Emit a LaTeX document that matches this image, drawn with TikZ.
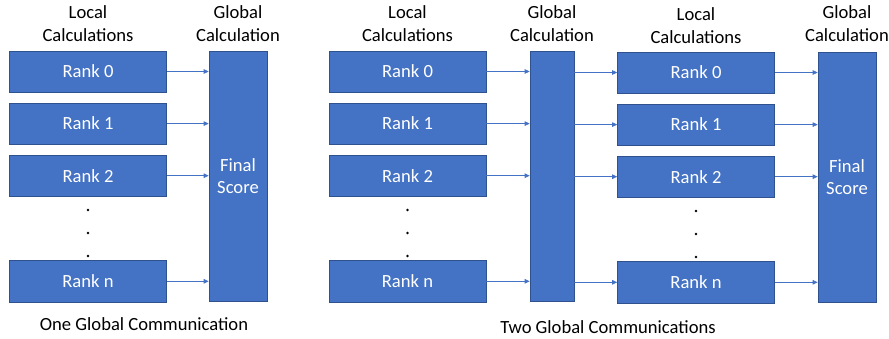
\documentclass[tikz,border=0pt]{standalone}
\usepackage{fontspec}
\setmainfont{Carlito}
\usepackage{tikz}
\usetikzlibrary{positioning, arrows.meta}
\usepackage{xcolor}
\definecolor{office-blue}{HTML}{4472C4}
\definecolor{office-edge}{HTML}{2F528F}

\tikzset{
	rankbox/.style={draw=office-edge, line width=0.6pt, fill=office-blue, text=white,
		minimum width=157pt, minimum height=41pt, inner sep=0pt},
	sumbox/.style={draw=office-edge, line width=0.6pt, fill=office-blue, text=white,
		minimum width=58pt, minimum height=250pt, inner sep=0pt, align=center},
	vdot/.style={circle, fill=black, inner sep=0pt, minimum size=2.6pt},
	headtext/.style={align=center, inner sep=0pt},
	flowarrow/.style={-{Triangle[length=5pt, width=4.5pt]}, office-blue, line width=0.7pt},
}

\begin{document}
\begin{tikzpicture}[x=1pt, y=-1pt, node distance=10.5pt, font=\fontsize{18.6}{22.5}\selectfont]
	\useasboundingbox (0,0) rectangle (889,339);

	% one global communication
	\node[rankbox] (a0) at (88,71.5) {Rank 0};
	\node[rankbox, below =of a0] (a1) {Rank 1};
	\node[rankbox, below =of a1] (a2) {Rank 2};
	\node[rankbox, below =64pt of a2] (an) {Rank n};
	\node[vdot, below =12pt of a2] (ad1) {};
	\node[vdot, below =20pt of ad1] (ad2) {};
	\node[vdot, below =20pt of ad2] (ad3) {};
	\node[sumbox] (ag) at (238,176) {Final\\Score};
	\node[headtext, above =9pt of a0] (alocal) {Local\\Calculations};
	\node[headtext, above =9pt of ag] (aglobal) {Global\\Calculation};
	\node (acap) at (144,324) {One Global Communication};
	\foreach \r in {a0,a1,a2,an}
		\draw[flowarrow] (\r.east) -- (\r.east -| ag.west);

	% two global communications
	\node[rankbox] (b0) at (407.5,71.5) {Rank 0};
	\node[rankbox, below =of b0] (b1) {Rank 1};
	\node[rankbox, below =of b1] (b2) {Rank 2};
	\node[rankbox, below =64pt of b2] (bn) {Rank n};
	\node[vdot, below =12pt of b2] (bd1) {};
	\node[vdot, below =20pt of bd1] (bd2) {};
	\node[vdot, below =20pt of bd2] (bd3) {};
	\node[sumbox, minimum width=44pt] (bg) at (552,176) {};
	\node[headtext, above =9pt of b0] (blocal) {Local\\Calculations};
	\node[headtext, above =9pt of bg] (bglobal) {Global\\Calculation};

	\node[rankbox] (c0) at (696,72.5) {Rank 0};
	\node[rankbox, below =of c0] (c1) {Rank 1};
	\node[rankbox, below =of c1] (c2) {Rank 2};
	\node[rankbox, below =64pt of c2] (cn) {Rank n};
	\node[vdot, below =12pt of c2] (cd1) {};
	\node[vdot, below =20pt of cd1] (cd2) {};
	\node[vdot, below =20pt of cd2] (cd3) {};
	\node[sumbox] (cg) at (847,177) {Final\\Score};
	\node[headtext, above =8pt of c0] (clocal) {Local\\Calculations};
	\node[headtext, above =10pt of cg] (cglobal) {Global\\Calculation};
	\node (bcap) at (608,327) {Two Global Communications};

	\foreach \r in {b0,b1,b2,bn}
		\draw[flowarrow] (\r.east) -- (\r.east -| bg.west);
	\foreach \r in {c0,c1,c2,cn}
		\draw[flowarrow] (bg.east |- \r) -- (\r.west);
	\foreach \r in {c0,c1,c2,cn}
		\draw[flowarrow] (\r.east) -- (\r.east -| cg.west);
\end{tikzpicture}
\end{document}
